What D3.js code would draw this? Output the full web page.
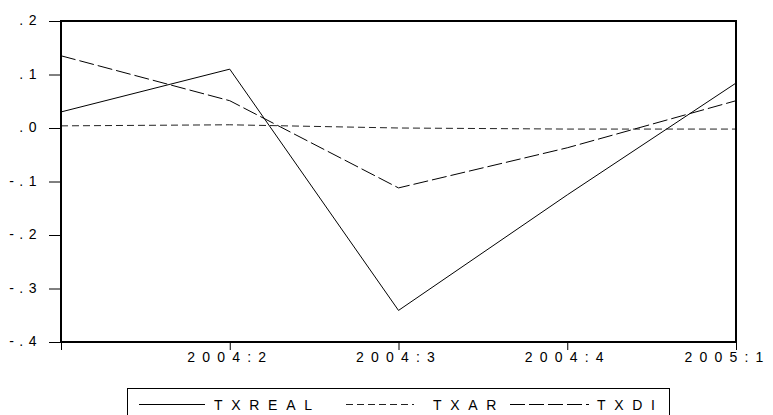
<!DOCTYPE html>
<html>
<head>
<meta charset="utf-8">
<script src="https://cdn.jsdelivr.net/npm/d3@7"></script>
<style>
  html, body { margin: 0; padding: 0; background: #fff; }
  svg { display: block; }
  text { font-family: "Liberation Sans", Arial, sans-serif; fill: #000; }
</style>
</head>
<body>
<svg id="chart" width="773" height="415"></svg>
<script>
const periods = ["2004:1", "2004:2", "2004:3", "2004:4", "2005:1"];
const txreal = [0.030, 0.110, -0.341, -0.125, 0.084];
const txar   = [0.004, 0.006, 0.000, -0.002, -0.002];
const txdi   = [0.135, 0.051, -0.112, -0.037, 0.051];
const yTicks = [0.2, 0.1, 0.0, -0.1, -0.2, -0.3, -0.4];
const yTickLabels = [".2", ".1", ".0", "-.1", "-.2", "-.3", "-.4"];
const seriesNames = ["TXREAL", "TXAR", "TXDI"];

(function () {
const svg = d3.select("#chart");
const mLeft = 61, mRight = 736, mTop = 21, mBottom = 342;

const x = d3.scalePoint().domain(periods).range([mLeft, mRight]);
const y = d3.scaleLinear().domain([-0.4, 0.2]).range([mBottom, mTop]);

const series = [
  { name: seriesNames[0], values: txreal, dash: null, color: "#000" },
  { name: seriesNames[1], values: txar, dash: "7,4", color: "#222" },
  { name: seriesNames[2], values: txdi, dash: "15,4", color: "#000" }
];

// y axis ticks and labels
const yAxis = d3.axisLeft(y).tickValues(yTicks).tickSize(12)
  .tickFormat((d, i) => yTickLabels[i]);
const gy = svg.append("g").attr("transform", `translate(${mLeft},0)`).call(yAxis);
gy.select(".domain").remove();
gy.selectAll(".tick line").attr("stroke", "#000").attr("stroke-width", 1);
gy.selectAll(".tick text")
  .attr("x", -19)
  .attr("dy", "0.25em")
  .style("font-size", "14px")
  .style("letter-spacing", "5.5px")
  .attr("fill", "#000");

// x axis ticks and labels
const xAxis = d3.axisBottom(x).tickSize(8)
  .tickFormat(d => d === periods[0] ? "" : d);
const gx = svg.append("g").attr("transform", `translate(0,${mBottom})`).call(xAxis);
gx.select(".domain").remove();
gx.selectAll(".tick line").attr("stroke", "#000").attr("stroke-width", 1);
gx.selectAll(".tick text")
  .attr("y", 10)
  .attr("dy", "0.71em")
  .style("font-size", "14px")
  .style("letter-spacing", "7.2px")
  .attr("fill", "#000");
gx.selectAll(".tick").filter(d => d === periods[periods.length - 1]).select("text")
  .attr("text-anchor", "end")
  .attr("x", 770 - mRight);

// lines
const line = d3.line().x((d, i) => x(periods[i])).y(d => y(d));
svg.append("g").selectAll("path").data(series).join("path")
  .attr("d", d => line(d.values))
  .attr("fill", "none")
  .attr("stroke", d => d.color)
  .attr("stroke-width", 1)
  .attr("stroke-dasharray", d => d.dash);

// frame
svg.append("rect")
  .attr("x", mLeft).attr("y", mTop)
  .attr("width", mRight - mLeft).attr("height", mBottom - mTop)
  .attr("fill", "none").attr("stroke", "#000").attr("stroke-width", 2);

// legend
const lg = svg.append("g");
lg.append("rect").attr("x", 127.5).attr("y", 388.5).attr("width", 542).attr("height", 30)
  .attr("fill", "none").attr("stroke", "#000").attr("stroke-width", 1);
const legendItems = [
  { s: series[0], x1: 139, x2: 205, tx: 214 },
  { s: series[1], x1: 346, x2: 414, tx: 433 },
  { s: series[2], x1: 510, x2: 589, tx: 597 }
];
legendItems.forEach(it => {
  lg.append("line").attr("x1", it.x1).attr("x2", it.x2).attr("y1", 404.5).attr("y2", 404.5)
    .attr("stroke", it.s.color).attr("stroke-width", 1)
    .attr("stroke-dasharray", it.s.dash);
  lg.append("text").attr("x", it.tx).attr("y", 409.5)
    .style("font-size", "14px").style("letter-spacing", "8.7px")
    .text(it.s.name);
});
})();
</script>
</body>
</html>
